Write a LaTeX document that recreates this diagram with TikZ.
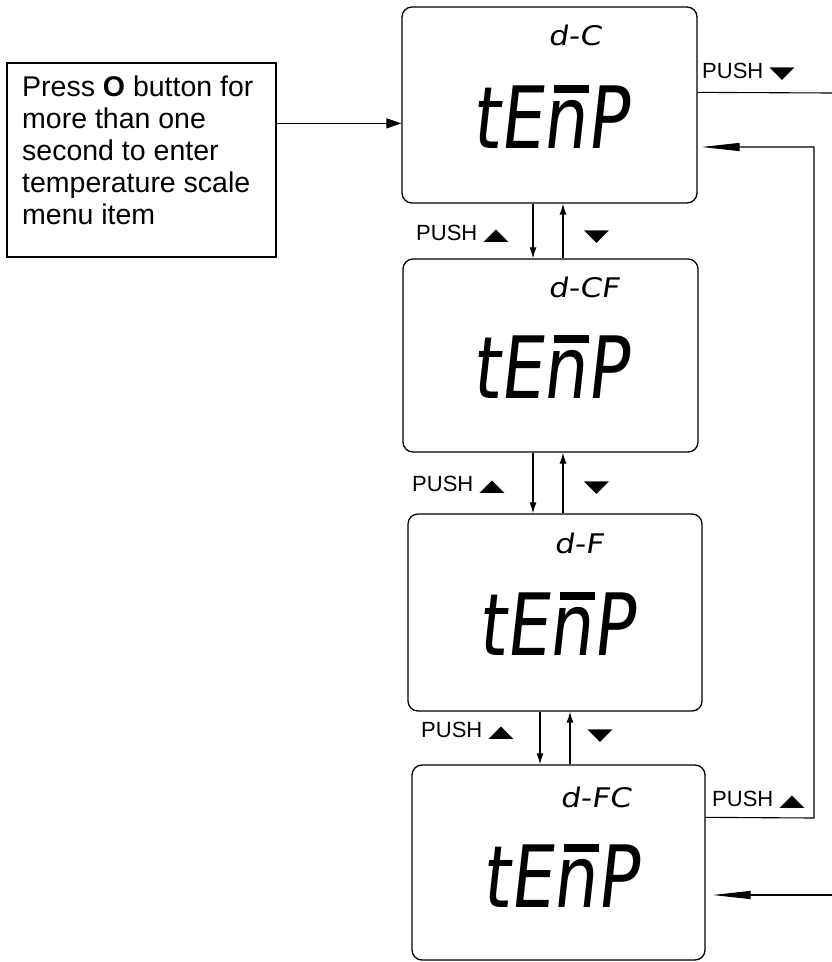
\documentclass[tikz,border=0pt]{standalone}
\usepackage{fontspec}
\setmainfont{Liberation Sans}
\newfontfamily\lcdfont{DejaVu Sans}[FakeSlant=0.14]
\newfontfamily\symfont{DejaVu Sans}
\usetikzlibrary{arrows.meta}
\newcommand\nbar{\rlap{\hspace{0.16em}\rule[0.64em]{0.52em}{0.09em}}n}
\newcommand\uptri{{\symfont\scalebox{1.5}[0.75]{▲}}}
\newcommand\dntri{{\symfont\scalebox{1.5}[0.75]{▼}}}
\begin{document}
\begin{tikzpicture}[x=1pt,y=-1pt,
  lcdbox/.style={draw, line width=1.3pt, rounded corners=10pt, inner sep=0pt},
  plainbox/.style={draw, line width=1.3pt, inner sep=0pt},
  wire/.style={line width=1.1pt},
  arr/.style={wire, -{Latex[length=11pt,width=7pt]}},
  longarr/.style={wire, -{Triangle[length=38pt,width=8pt]}},
  lbl/.style={inner sep=0pt, font=\fontsize{22}{22}\selectfont},
  bigtxt/.style={inner sep=0pt, font=\lcdfont\fontsize{86}{86}\selectfont},
  smalltxt/.style={inner sep=0pt, font=\lcdfont\fontsize{27}{27}\selectfont},
]
\fill[white] (0,0) rectangle (832,962);
\useasboundingbox (0,0) rectangle (832,962);

% left text box
\node[plainbox, minimum width=269pt, minimum height=194pt] (lb) at (141.5,160) {};
\node[inner sep=0pt, anchor=north west, align=left, font=\fontsize{28.5}{32}\selectfont] (lt) at (22,76)
  {Press \textbf{O} button for\\more than one\\second to enter\\temperature scale\\menu item};

% LCD boxes
\node[lcdbox, minimum width=295pt, minimum height=196pt] (b1) at (549.5,105) {};
\node[lcdbox, minimum width=295pt, minimum height=193pt] (b2) at (550.5,355.5) {};
\node[lcdbox, minimum width=294pt, minimum height=197pt] (b3) at (555,612.5) {};
\node[lcdbox, minimum width=293pt, minimum height=195pt] (b4) at (558.5,862.5) {};

% LCD texts
\node[smalltxt, anchor=base west] (s1) at (548,45) {\scalebox{1.15}[1]{d-C}};
\node[bigtxt, anchor=base west] (t1) at (472,148) {\scalebox{0.8}[1]{tE\nbar P}};
\node[smalltxt, anchor=base west] (s2) at (548,297) {\scalebox{1.15}[1]{d-CF}};
\node[bigtxt, anchor=base west] (t2) at (472,398) {\scalebox{0.8}[1]{tE\nbar P}};
\node[smalltxt, anchor=base west] (s3) at (554,553) {\scalebox{1.15}[1]{d-F}};
\node[bigtxt, anchor=base west] (t3) at (478,655) {\scalebox{0.8}[1]{tE\nbar P}};
\node[smalltxt, anchor=base west] (s4) at (560,807) {\scalebox{1.15}[1]{d-FC}};
\node[bigtxt, anchor=base west] (t4) at (482,907) {\scalebox{0.8}[1]{tE\nbar P}};

% entry arrow
\draw[wire, -{Triangle[length=15pt,width=10pt]}] ([yshift=-61pt]lb.north east) -- ([yshift=-61pt]lb.north east -| b1.west);

% vertical arrows
\draw[arr] ([xshift=-16.5pt]b1.south) -- ([xshift=-16.5pt]b1.south |- b2.north);
\draw[arr] ([xshift=13.5pt]b1.south |- b2.north) -- ([xshift=13.5pt]b1.south);
\draw[arr] ([xshift=-17.5pt]b2.south) -- ([xshift=-17.5pt]b2.south |- b3.north);
\draw[arr] ([xshift=12.5pt]b2.south |- b3.north) -- ([xshift=12.5pt]b2.south);
\draw[arr] ([xshift=-15pt]b3.south) -- ([xshift=-15pt]b3.south |- b4.north);
\draw[arr] ([xshift=15pt]b3.south |- b4.north) -- ([xshift=15pt]b3.south);

% labels between boxes
\node[lbl, anchor=west] (pa) at (416,234) {PUSH \uptri};
\node[lbl] (da) at (596.5,237) {\dntri};
\node[lbl, anchor=west] (pb) at (412,485) {PUSH \uptri};
\node[lbl] (db) at (596.5,488) {\dntri};
\node[lbl, anchor=west] (pc) at (421,731) {PUSH \uptri};
\node[lbl] (dc) at (600,736) {\dntri};

% right side
\coordinate (e1) at (832,93);
\draw[wire] ([yshift=-86pt]b1.north east) -- (e1);
\node[lbl, anchor=west] (pt) at (702,72) {PUSH \dntri};

\coordinate (c1) at (814,147);
\coordinate (c2) at (814,818);
\draw[longarr, shorten >=4pt] ([yshift=-53pt]b4.north east) -- (c2) -- (c1) -- (c1 -| b1.east);
\node[lbl, anchor=west] (pd) at (712,800) {PUSH \uptri};

\coordinate (e2) at (832,895);
\draw[longarr, shorten >=7pt] (e2) -- (e2 -| b4.east);
\end{tikzpicture}
\end{document}
